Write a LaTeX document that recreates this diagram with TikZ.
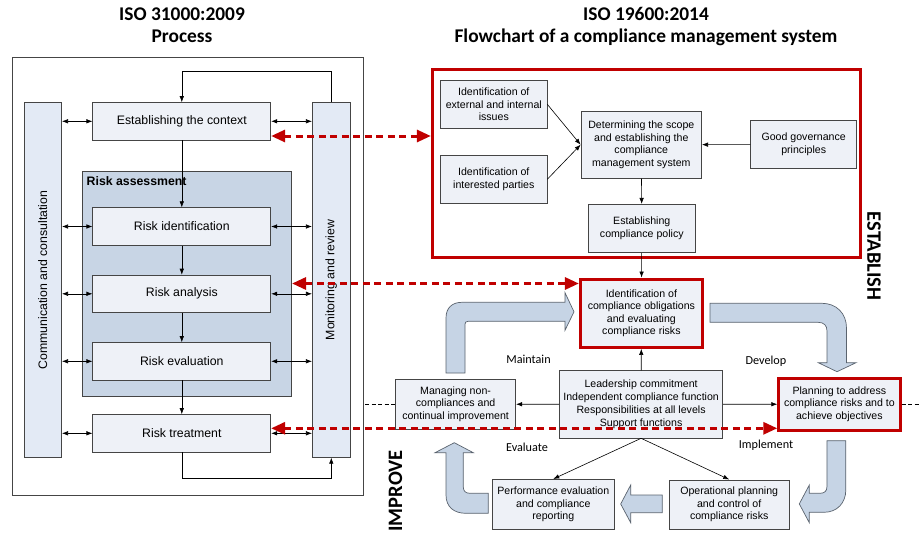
\documentclass[tikz,border=0pt]{standalone}
\usepackage{fontspec}
\setmainfont{Liberation Sans}
\newfontfamily\calibri{Carlito}
\usetikzlibrary{arrows.meta}

\definecolor{boxfill}{HTML}{EEF1F7}
\definecolor{colfill}{HTML}{E3EAF5}
\definecolor{assessfill}{HTML}{C8D5E5}
\definecolor{arrowfill}{HTML}{C6D4E5}
\definecolor{arrowline}{HTML}{5A636E}
\definecolor{linkred}{HTML}{C00000}
\definecolor{framegray}{HTML}{454545}

\tikzset{
    box/.style={draw=framegray, fill=boxfill, line width=0.7pt, align=center, inner sep=1pt},
    colbox/.style={draw=framegray, fill=colfill, line width=0.7pt},
    bigtext/.style={font=\fontsize{12.3}{14}\selectfont},
    smalltext/.style={font=\fontsize{10.6}{12.6}\selectfont},
    redbox/.style={draw=linkred, line width=3pt},
    flow/.style={-{Latex[length=6pt,width=4.5pt]}, line width=0.6pt},
    both/.style={{Latex[length=6pt,width=4.5pt]}-{Latex[length=6pt,width=4.5pt]}, line width=0.6pt},
    redlink/.style={{Triangle[length=14pt,width=12pt]}-{Triangle[length=14pt,width=12pt]},
        draw=linkred, line width=3pt, dash pattern=on 7pt off 4.5pt},
    blockarrow/.style={fill=arrowfill, draw=arrowline, line width=0.7pt},
    heading/.style={font=\calibri\bfseries\fontsize{19.4}{23}\selectfont},
    phase/.style={font=\calibri\bfseries\fontsize{20.5}{24}\selectfont},
    turnlabel/.style={font=\calibri\fontsize{12.2}{14}\selectfont}
}

\begin{document}
\begin{tikzpicture}[x=1pt, y=-1pt]
\useasboundingbox (0,0) rectangle (919,535);

% headings
\node[heading, anchor=base] (isoa) at (182,20.7) {ISO 31000:2009};
\node[heading, anchor=base] (isoa2) at (182,42.7) {Process};
\node[heading, anchor=base] (isob) at (646,20.7) {ISO 19600:2014};
\node[heading, anchor=base] (isob2) at (646,42.7) {Flowchart of a compliance management system};

% ISO 31000 process
\draw[framegray, line width=0.7pt] (12,57) rectangle (363,495);
\node[draw=framegray, fill=assessfill, line width=0.7pt, minimum width=209pt, minimum height=225pt] (assess) at (187.2,283.5) {};
\node[font=\bfseries\fontsize{12.3}{14}\selectfont, anchor=base west, inner sep=0pt] (assesstext) at (86.5,185.5) {Risk assessment};

\node[colbox, minimum width=37.7pt, minimum height=354.6pt] (comm) at (42.8,280) {};
\node[colbox, minimum width=38pt, minimum height=354.6pt] (mon) at (331.3,280) {};
\node[bigtext, rotate=90] (commtext) at (comm) {Communication and consultation};
\node[bigtext, rotate=90] (montext) at (mon) {Monitoring and review};

\begin{scope}[
        every node/.style={box, bigtext, minimum width=178pt, minimum height=37.5pt}
    ]
    \node (ctx) at (181.8,121.3) {Establishing the context};
    \node (rid) at (181.8,226.5) {Risk identification};
    \node (ran) at (181.8,293.8) {Risk analysis};
    \node (rev) at (181.8,361.3) {Risk evaluation};
    \node (rtr) at (181.8,433.3) {Risk treatment};
\end{scope}

\draw[flow] (ctx) -- (rid);
\draw[flow] (rid) -- (ran);
\draw[flow] (ran) -- (rev);
\draw[flow] (rev) -- (rtr);

\draw[flow] (mon.north) -- ++(0,-31) -| (ctx.north);
\draw[flow] (rtr.south) -- ++(0,25.4) -| (mon.south);

\draw[both] (comm.east |- ctx.west) -- (ctx.west);
\draw[both] (comm.east |- rid.west) -- (rid.west);
\draw[both] (comm.east |- ran.west) -- (ran.west);
\draw[both] (comm.east |- rev.west) -- (rev.west);
\draw[both] (comm.east |- rtr.west) -- (rtr.west);
\draw[both] (ctx.east) -- (mon.west |- ctx.east);
\draw[both] (rid.east) -- (mon.west |- rid.east);
\draw[both] (ran.east) -- (mon.west |- ran.east);
\draw[both] (rev.east) -- (mon.west |- rev.east);
\draw[both] (rtr.east) -- (mon.west |- rtr.east);

% ISO 19600 flowchart
\node[redbox, minimum width=427.7pt, minimum height=188.3pt] (estab) at (646.2,163.2) {};
\node[phase, rotate=-90] (establish) at (874,256) {ESTABLISH};
\node[phase, rotate=90] (improve) at (395.5,491) {IMPROVE};

\begin{scope}[
        every node/.style={box, smalltext}
    ]
    \node[minimum width=106.3pt, minimum height=48pt] (ext) at (493.8,104.3) {Identification of\\external and internal\\issues};
    \node[minimum width=106.3pt, minimum height=48pt] (par) at (493.8,179.3) {Identification of\\interested parties};
    \node[minimum width=120.7pt, minimum height=67.3pt] (scope) at (641.3,144.7) {Determining the scope\\and establishing the\\compliance\\management system};
    \node[minimum width=106pt, minimum height=47.6pt] (gov) at (803.7,144.5) {Good governance\\principles};
    \node[minimum width=106.3pt, minimum height=48.4pt] (pol) at (641.8,228.5) {Establishing\\compliance policy};
    \node[redbox, minimum width=122pt, minimum height=68.3pt] (obl) at (641.4,313.2) {Identification of\\compliance obligations\\and evaluating\\compliance risks};
    \node[minimum width=163.2pt, minimum height=67.3pt, font=\fontsize{10.6}{13}\selectfont] (lead) at (641.1,404.3) {Leadership commitment\\Independent compliance function\\Responsibilities at all levels\\Support functions};
    \node[minimum width=120.3pt, minimum height=50.3pt] (man) at (455.6,404.2) {Managing non-\\compliances and\\continual improvement};
    \node[redbox, minimum width=121.2pt, minimum height=51.7pt] (plan) at (839.4,404.2) {Planning to address\\compliance risks and to\\achieve objectives};
    \node[minimum width=121.3pt, minimum height=50pt] (perf) at (553.3,504.3) {Performance evaluation\\and compliance\\reporting};
    \node[minimum width=120.3pt, minimum height=49.5pt] (op) at (729.2,504.6) {Operational planning\\and control of\\compliance risks};
\end{scope}

\draw[flow] (ext.east) -- (scope.west);
\draw[flow] (par.east) -- (scope.west);
\draw[flow] (gov) -- (scope);
\draw[flow] (scope) -- (pol);
\draw[flow] (pol) -- (obl);
\draw[flow] (lead) -- (obl);
\draw[flow] (lead) -- (man);
\draw[flow] (lead) -- (plan);
\draw[flow] (lead.south) -- (perf.north);
\draw[flow] (lead.south) -- (op.north);

\coordinate (dl) at (365,404.2);
\coordinate (dr) at (919,404.2);
\draw[line width=0.5pt, dash pattern=on 4pt off 2.5pt] (dl) -- (man.west);
\draw[line width=0.5pt, dash pattern=on 4pt off 2.5pt] (plan.east) -- (dr);

% cycle arrows
\draw[blockarrow] (446,373) -- (446,318) .. controls (446,308) and (452,302.3) .. (462,302.3)
    -- (565,302.3) -- (565,292.7) -- (574,311.8) -- (565,330.3) -- (565,321.3) -- (468,321.3)
    .. controls (466,321.3) and (465,322.3) .. (465,324.3) -- (465,373) -- cycle;
\draw[blockarrow] (710,303.3) -- (822,303.3) .. controls (836,303.3) and (846.5,313) .. (846.5,328)
    -- (846.5,362.7) -- (856,362.7) -- (837,371.7) -- (818.3,362.7) -- (827,362.7) -- (827,331)
    .. controls (827,325.5) and (824,322.3) .. (818,322.3) -- (710,322.3) -- cycle;
\draw[blockarrow] (826.9,440.7) -- (845.8,440.7) -- (845.8,490) .. controls (845.8,503) and (837,512.3) .. (824,512.3)
    -- (809.3,512.3) -- (809.3,522.7) -- (799.3,503.9) -- (809.3,485) -- (809.3,493.3) -- (820,493.3)
    .. controls (824.5,493.3) and (826.9,491) .. (826.9,487) -- cycle;
\draw[blockarrow] (662.3,495) -- (630.7,495) -- (630.7,485) -- (620.7,504) -- (630.7,522.7)
    -- (630.7,512.7) -- (662.3,512.7) -- cycle;
\draw[blockarrow] (488.3,493.3) -- (470,493.3) .. controls (465.5,493.3) and (463.3,491) .. (463.3,487)
    -- (463.3,452.7) -- (473.3,452.7) -- (454.3,442.7) -- (435,452.7) -- (446,452.7) -- (446,495)
    .. controls (446,507) and (454,513.3) .. (466,513.3) -- (488.3,513.3) -- cycle;

\node[turnlabel] (maintain) at (528.5,359) {Maintain};
\node[turnlabel] (develop) at (766,361) {Develop};
\node[turnlabel] (evaluate) at (527,447.3) {Evaluate};
\node[turnlabel] (implement) at (766,445) {Implement};

% links between the two standards
\draw[redlink] ([yshift=-14.7pt]ctx.east) -- ([yshift=27.2pt]estab.west);
\draw[redlink] (assess.east) -- (obl.west |- assess.east);
\draw[redlink] ([yshift=5pt]rtr.east) -- ([yshift=-24.1pt]plan.west);
\end{tikzpicture}
\end{document}
